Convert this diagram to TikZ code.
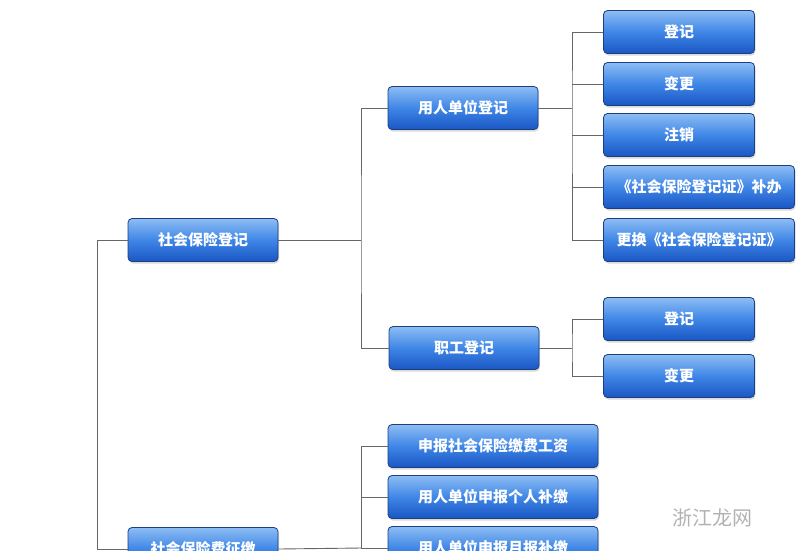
\documentclass[tikz,border=0pt]{standalone}
\usepackage{fontspec}
\setmainfont{Noto Sans CJK SC}
\usetikzlibrary{shadows}
\definecolor{btop}{HTML}{8DBDF4}
\definecolor{bmid}{HTML}{3F86E6}
\definecolor{bbot}{HTML}{1A56C4}
\definecolor{bedge}{HTML}{1C3F7E}
\begin{document}
\begin{tikzpicture}[x=1pt,y=-1pt,
  bluebox/.style={draw=bedge, line width=0.8pt, rounded corners=4pt,
    top color=btop, bottom color=bbot, middle color=bmid,
    text=white, font=\bfseries\fontsize{15}{15}\selectfont, minimum height=43pt,
    drop shadow={shadow xshift=1pt, shadow yshift=-2pt, opacity=0.3},
    inner sep=0pt, anchor=center},
  conn/.style={draw=gray!80!black, line width=0.9pt}]
\useasboundingbox (0,0) rectangle (800,550);
\begin{scope}
\clip (0,0) rectangle (800,550);
% level 1
\node[bluebox, minimum width=150pt] (a) at (203,240) {社会保险登记};
\node[bluebox, minimum width=150pt] (b) at (203,549) {社会保险费征缴};
% level 2
\node[bluebox, minimum width=150pt] (a1) at (463,108) {用人单位登记};
\node[bluebox, minimum width=150pt] (a2) at (464,348) {职工登记};
\node[bluebox, minimum width=210pt] (b1) at (493,446) {申报社会保险缴费工资};
\node[bluebox, minimum width=210pt] (b2) at (493,497) {用人单位申报个人补缴};
\node[bluebox, minimum width=210pt] (b3) at (493,548) {用人单位申报月报补缴};
% level 3
\node[bluebox, minimum width=151pt] (c1) at (679,32) {登记};
\node[bluebox, minimum width=151pt] (c2) at (679,84) {变更};
\node[bluebox, minimum width=151pt] (c3) at (679,135) {注销};
\node[bluebox, minimum width=191pt] (c4) at (699,187) {《社会保险登记证》补办};
\node[bluebox, minimum width=191pt] (c5) at (699,240) {更换《社会保险登记证》};
\node[bluebox, minimum width=151pt] (d1) at (679,319) {登记};
\node[bluebox, minimum width=151pt] (d2) at (679,376) {变更};
% connectors
\coordinate (r) at (97,240);
\path[conn] (a.west) -- (r) |- (b.west);
\coordinate (j1) at (361,240);
\path[conn] (a.east) -- (j1);
\path[conn] (a1.west) -| (j1) |- (a2.west);
\coordinate (j2) at (572,108);
\path[conn] (a1.east) -- (j2);
\path[conn] (c1.west) -| (j2) |- (c5.west);
\path[conn] (c2.west) -- (c2.west -| j2);
\path[conn] (c3.west) -- (c3.west -| j2);
\path[conn] (c4.west) -- (c4.west -| j2);
\coordinate (j3) at (572,348);
\path[conn] (a2.east) -- (j3);
\path[conn] (d1.west) -| (j3) |- (d2.west);
\coordinate (j4) at (361,548);
\path[conn] (b.east) -- (j4);
\path[conn] (b1.west) -| (j4);
\path[conn] (b2.west) -- (b2.west -| j4);
\path[conn] (b3.west) -- (j4);
\end{scope}
% watermark
\node[text=gray!60, font=\fontsize{20}{20}\selectfont] (w) at (712,518) {浙江龙网};
\end{tikzpicture}
\end{document}
